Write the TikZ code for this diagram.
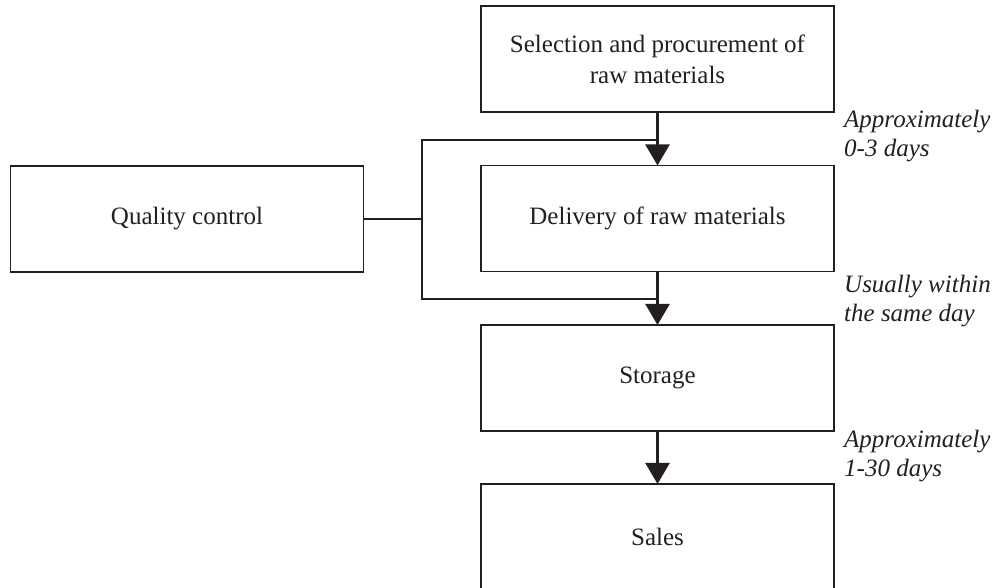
\documentclass[tikz,border=0pt]{standalone}
\usepackage{fontspec}
\setmainfont{Liberation Serif}
\usetikzlibrary{arrows.meta}
\definecolor{ink}{RGB}{35,31,32}
\tikzset{
  stagebox/.style={draw=ink, line width=1.1pt, minimum width=353pt, minimum height=106pt,
    inner sep=0pt, align=center, text=ink, font=\fontsize{25}{31}\selectfont},
  flowarrow/.style={draw=ink, line width=2.6pt, -{Triangle[width=24pt,length=21pt]}, shorten >=-0.5pt},
  bracketline/.style={draw=ink, line width=1.1pt},
  timenote/.style={anchor=west, inner sep=0pt, align=left, text=ink,
    font=\fontsize{25}{28.5}\selectfont\itshape}
}
\begin{document}
\begin{tikzpicture}[x=1pt, y=-1pt]
  \useasboundingbox (0,0) rectangle (997,587);
  \begin{scope}
    \clip (0,0) rectangle (997,587);
    % process stages
    \node[stagebox] (sel) at (657.5,59) {Selection and procurement of\\raw materials};
    \node[stagebox] (del) at (657.5,218.5) {Delivery of raw materials};
    \node[stagebox] (sto) at (657.5,378) {Storage};
    \node[stagebox] (sal) at (657.5,537) {Sales};
    \node[stagebox] (qc) at (187,219) {Quality control};
  \end{scope}

  % main flow
  \draw[flowarrow] (sel.south) -- (del.north);
  \draw[flowarrow] (del.south) -- (sto.north);
  \draw[flowarrow] (sto.south) -- (sal.north);

  % quality control bracket around the delivery step
  \coordinate (qj) at (422,219);
  \coordinate (qt) at (422,140);
  \coordinate (qb) at (422,299);
  \coordinate (ft) at (657.5,140);
  \coordinate (fb) at (657.5,299);
  \draw[bracketline] (qc.east) -- (qj);
  \draw[bracketline] (ft) -- (qt) -- (qb) -- (fb);

  % time notes
  \node[timenote] (t1) at (844,136) {Approximately\\0-3 days};
  \node[timenote] (t2) at (844,301) {Usually within\\the same day};
  \node[timenote] (t3) at (844,456) {Approximately\\1-30 days};
\end{tikzpicture}
\end{document}
